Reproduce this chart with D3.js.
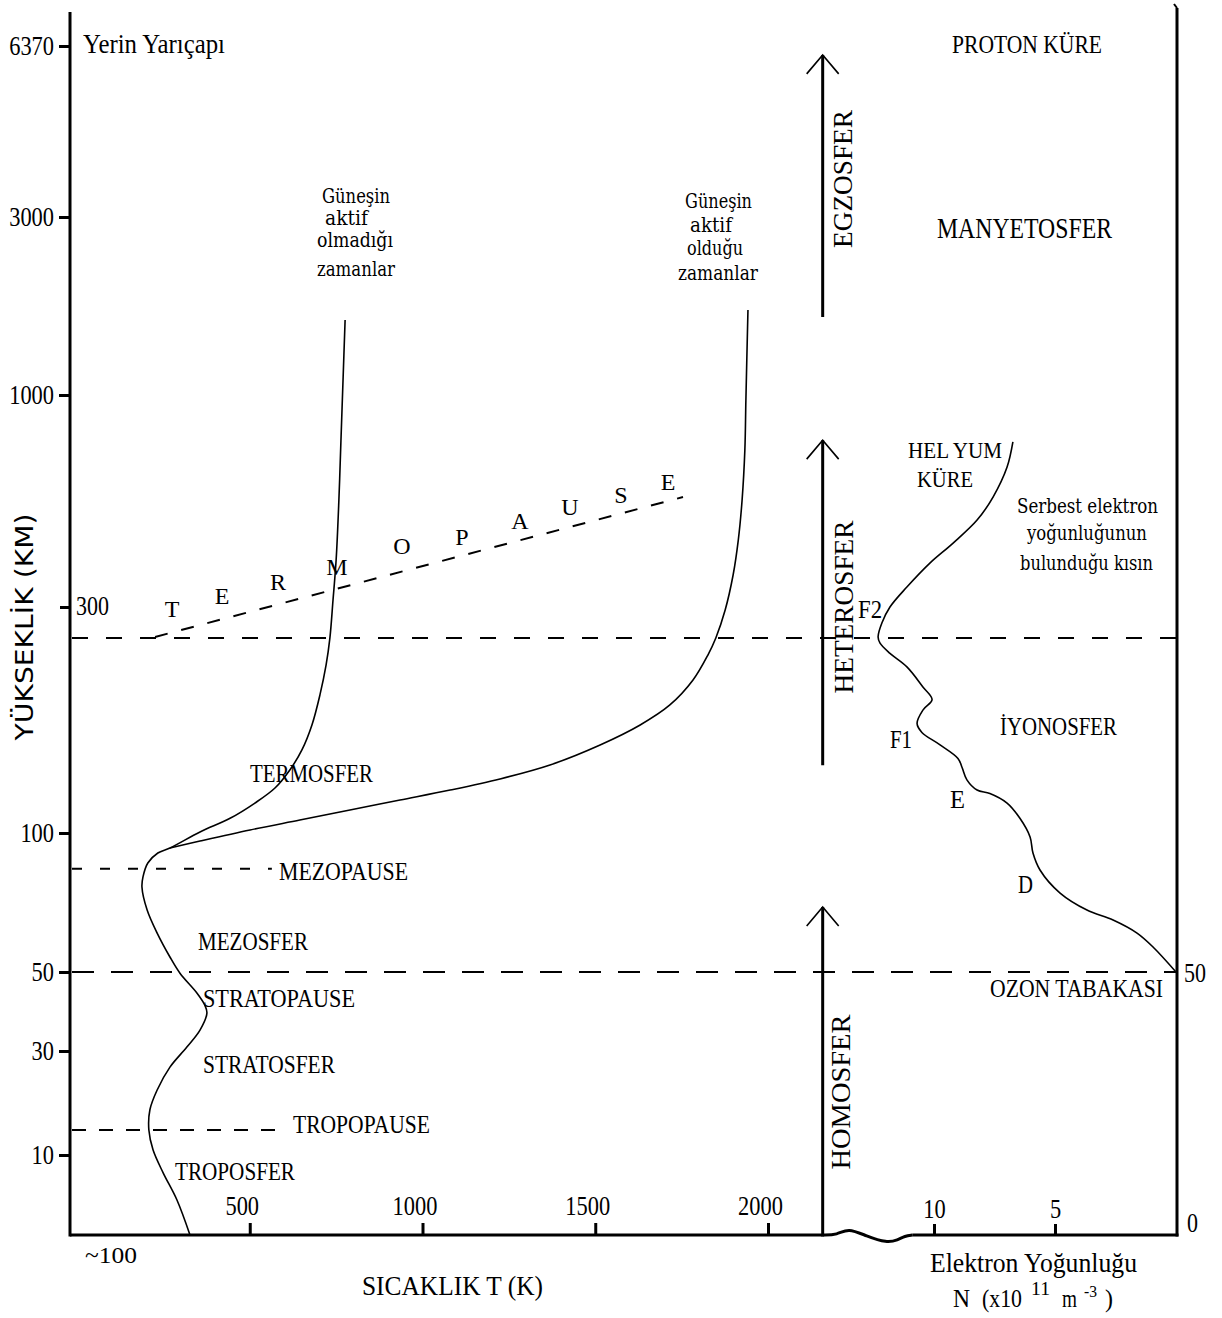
<!DOCTYPE html>
<html><head><meta charset="utf-8">
<script src="https://cdn.jsdelivr.net/npm/d3@7/dist/d3.min.js"></script>
<style>body{margin:0;background:#fff}svg{display:block}</style>
</head><body>
<script>
// ---------------- DATA ----------------
// altitude axis (km) – piecewise, as drawn
const altitudeBreaks = [0, 10, 30, 50, 100, 300, 1000, 3000, 6370];
const leftTickValues = [6370, 3000, 1000, 100, 50, 30, 10];
const innerTickValue = 300;
const tempTicks = [500, 1000, 1500, 2000];        // K
const densityTicks = [10, 5];                      // x10^11 m^-3

// temperature profile, quiet sun  [T (K), altitude (km)]
const solarMinProfile = [
  [327,0],[289,4.4],[249,7.8],[220,11],[208,14.8],[211,18.7],[232,22.5],[269,26.9],
  [318,31],[356,35.3],[376,39.6],[370,41.6],[347,44.7],[298,49.7],[269,55.4],[232,64],
  [203,72.3],[188,80.6],[191,84.2],[205,89.2],[234,92.8],[269,94.6],[356,100.9],[443,113],
  [515,126.5],[573,139.8],[616,155.8],[651,173.5],[680,195.6],[703,222],[721,248.7],
  [732,272.6],[741,323],[750,455],[758,653],[764,851],[770,1169],[776,1843]
];
// temperature profile, active sun
const solarMaxProfile = [
  [269,94.6],[356,97.1],[501,102.7],[645,111.5],[790,120.4],[935,129.2],[1080,138],
  [1224,147.8],[1369,160.2],[1514,177.9],[1630,195.6],[1716,213.3],[1783,235.4],
  [1826,257.5],[1849,272.6],[1876,297.3],[1899,405.6],[1914,521],[1925,653],
  [1933,818],[1936,983],[1942,1955]
];
// electron density profile [N (x10^11 m^-3), altitude (km)]
const electronProfile = [
  [6.74,845],[6.98,762],[7.56,663],[8.22,587],[9.21,511],[10.17,445],[11.12,366],
  [11.82,300],[12.15,286],[12.31,273.5],[12.23,268],[11.82,259],[11.12,247],[10.45,229],
  [10.08,218],[10.45,209],[10.70,197],[10.50,189],[9.75,178],[9.01,166],[8.84,158],
  [8.64,147],[8.22,138],[7.69,135],[6.98,126.5],[6.45,113],[6.03,98.6],[5.91,92.8],
  [5.62,86.7],[4.79,78.4],[3.68,72.3],[2.60,68.7],[1.61,64],[0.95,59],[0,50]
];
// thermopause (sloped boundary) end points [T, km]
const thermopause = [[226,273.5],[1754,663]];
// horizontal boundaries: altitude (km), temperature where the dashed line stops (null = full width)
const boundaryKm = [272.6, 50, 87.1, 14.8];
const boundaryEndT = [null, null, 564, 582];
// region arrows (altitude ranges, km)
const regionNames = ["HOMOSFER", "HETEROSFER", "EGZOSFER"];
const regionFrom = [0, 160, 1876];
const regionTo = [73.4, 851, 6195];
const arrowColumnN = 14.6;

// ---------------- LAYOUT / STYLE ----------------
const SERIF = "'Liberation Serif','Times New Roman',serif";
const SERIF2 = "'DejaVu Serif','Liberation Serif',serif";
const SANS = "'DejaVu Sans','Liberation Sans',sans-serif";
const axisX = 70, rightAxisX = 1177, baseY = 1235;

const svg = d3.select("body").append("svg").attr("width", 1222).attr("height", 1318);

const y = d3.scaleLinear().domain(altitudeBreaks).range([1235,1155,1051,972,833,607,395,217,46]);
const xT = d3.scaleLinear().domain([0, 2000]).range([77, 768]);
const xN = d3.scaleLinear().domain([0, 10]).range([1176, 934]);

// ---- axes frame ----
svg.append("line").attr("x1", axisX).attr("x2", axisX).attr("y1", 12).attr("y2", baseY + 1.5)
  .attr("stroke", "#000").attr("stroke-width", 3);
svg.append("line").attr("x1", rightAxisX).attr("x2", rightAxisX).attr("y1", 8).attr("y2", baseY + 1.5)
  .attr("stroke", "#000").attr("stroke-width", 3);
svg.append("path").attr("d", `M${rightAxisX-3},4 L${rightAxisX},8`).attr("stroke","#000").attr("stroke-width",2);

// baseline with a break
const breakPts = [[xN(14.6),0],[xN(14.0),0],[xN(13.55),-7],[xN(12.8),1],[xN(11.94),8],[xN(11.5),5],[xN(11.2),1],[xN(10.9),0]];
const brk = d3.line().x(d => d[0]).y(d => baseY + d[1]).curve(d3.curveBasis);
svg.append("line").attr("x1", axisX).attr("x2", xN(14.6)).attr("y1", baseY).attr("y2", baseY)
  .attr("stroke", "#000").attr("stroke-width", 3);
svg.append("path").attr("d", brk(breakPts)).attr("fill","none").attr("stroke","#000").attr("stroke-width",3);
svg.append("line").attr("x1", xN(10.9)).attr("x2", rightAxisX + 1.5).attr("y1", baseY).attr("y2", baseY)
  .attr("stroke", "#000").attr("stroke-width", 3);

// left axis ticks
const gL = svg.append("g").attr("transform", `translate(${axisX},0)`)
  .call(d3.axisLeft(y).tickValues(leftTickValues).tickSize(11).tickPadding(5).tickFormat(d3.format("d")));
gL.select(".domain").remove();
gL.selectAll(".tick line").attr("stroke", "#000").attr("stroke-width", 3);
gL.selectAll(".tick text").attr("font-family", SERIF).attr("font-size", 27).attr("fill", "#000")
  .attr("dy", "0.32em").attr("textLength", d => String(d).length * 11.2).attr("lengthAdjust", "spacingAndGlyphs");

// inner 300 tick
const g300 = svg.append("g").attr("transform", `translate(${axisX},0)`)
  .call(d3.axisLeft(y).tickValues([innerTickValue]).tickSize(10).tickFormat(""));
g300.select(".domain").remove();
g300.selectAll(".tick line").attr("stroke", "#000").attr("stroke-width", 3);
svg.append("text").attr("x", axisX + 6).attr("y", y(innerTickValue) + 8).attr("font-family", SERIF)
  .attr("font-size", 27).attr("textLength", 33).attr("lengthAdjust", "spacingAndGlyphs").text(innerTickValue);

// temperature axis (ticks point upward)
const gT = svg.append("g").attr("transform", `translate(0,${baseY})`)
  .call(d3.axisTop(xT).tickValues(tempTicks).tickSize(12).tickPadding(8).tickFormat(d3.format("d")));
gT.select(".domain").remove();
gT.selectAll(".tick line").attr("stroke", "#000").attr("stroke-width", 3);
gT.selectAll(".tick text").attr("font-family", SERIF).attr("font-size", 27).attr("fill", "#000")
  .attr("dx", -8).attr("textLength", d => String(d).length * 11.2).attr("lengthAdjust", "spacingAndGlyphs");

// electron density axis
const gN = svg.append("g").attr("transform", `translate(0,${baseY})`)
  .call(d3.axisTop(xN).tickValues(densityTicks).tickSize(11).tickPadding(6).tickFormat(d3.format("d")));
gN.select(".domain").remove();
gN.selectAll(".tick line").attr("stroke", "#000").attr("stroke-width", 3);
gN.selectAll(".tick text").attr("font-family", SERIF).attr("font-size", 27).attr("fill", "#000")
  .attr("textLength", d => String(d).length * 11.2).attr("lengthAdjust", "spacingAndGlyphs");
svg.append("text").attr("x", xN(0) + 11).attr("y", baseY - 3).attr("font-family", SERIF)
  .attr("font-size", 27).attr("textLength", 11).attr("lengthAdjust", "spacingAndGlyphs").text("0");
svg.append("text").attr("x", xN(0) + 8).attr("y", y(50) + 10).attr("font-family", SERIF)
  .attr("font-size", 27).attr("textLength", 22).attr("lengthAdjust", "spacingAndGlyphs").text("50");

// ---- dashed boundaries ----
const dashStyles = ["16,18", "22,17", "10,18", "14,13"];
boundaryKm.forEach((km, i) => {
  svg.append("line").attr("x1", axisX + 2).attr("x2", boundaryEndT[i] == null ? rightAxisX : xT(boundaryEndT[i]))
    .attr("y1", y(km)).attr("y2", y(km)).attr("stroke", "#000").attr("stroke-width", 2)
    .attr("stroke-dasharray", dashStyles[i]);
});
svg.append("path").attr("d", d3.line().x(d => xT(d[0])).y(d => y(d[1]))(thermopause))
  .attr("fill", "none").attr("stroke", "#000").attr("stroke-width", 2).attr("stroke-dasharray", "13,14");

// ---- profiles ----
const lineT = d3.line().x(d => xT(d[0])).y(d => y(d[1])).curve(d3.curveCatmullRom.alpha(0.5));
const lineN = d3.line().x(d => xN(d[0])).y(d => y(d[1])).curve(d3.curveCatmullRom.alpha(0.5));
svg.append("path").attr("d", lineT(solarMinProfile)).attr("fill", "none").attr("stroke", "#000").attr("stroke-width", 1.6);
svg.append("path").attr("d", lineT(solarMaxProfile)).attr("fill", "none").attr("stroke", "#000").attr("stroke-width", 1.6);
svg.append("path").attr("d", lineN(electronProfile)).attr("fill", "none").attr("stroke", "#000").attr("stroke-width", 1.6);

// ---- region arrows ----
const ax = xN(arrowColumnN);
regionNames.forEach((n, i) => {
  svg.append("line").attr("x1", ax).attr("x2", ax).attr("y1", y(regionFrom[i]) + (i === 0 ? 1.5 : 0)).attr("y2", y(regionTo[i]))
    .attr("stroke", "#000").attr("stroke-width", 3);
  svg.append("polyline").attr("points", `${ax-16},${y(regionTo[i])+19} ${ax},${y(regionTo[i])} ${ax+16},${y(regionTo[i])+19}`)
    .attr("fill", "none").attr("stroke", "#000").attr("stroke-width", 1.6);
});

// ---- text annotations ----
function label(t, x, yy, size, len, fam) {
  svg.append("text").attr("x", x).attr("y", yy).attr("font-family", fam || SERIF).attr("font-size", size)
    .attr("fill", "#000").attr("textLength", len).attr("lengthAdjust", "spacingAndGlyphs").text(t);
}
const labels = [
  ["Yerin Yarıçapı", 83, 53, 27, 142],
  ["TERMOSFER", 250, 782, 26, 123],
  ["MEZOPAUSE", 279, 880, 26, 129],
  ["MEZOSFER", 198, 950, 26, 110],
  ["STRATOPAUSE", 203, 1007, 26, 152],
  ["STRATOSFER", 203, 1073, 26, 132],
  ["TROPOPAUSE", 293, 1133, 26, 137],
  ["TROPOSFER", 175, 1180, 26, 120],
  ["~100", 85, 1263, 24, 52],
  ["SICAKLIK   T (K)", 362, 1295, 28, 181],
  ["Elektron Yoğunluğu", 930, 1272, 27, 207],
  ["PROTON KÜRE", 952, 53, 25, 150],
  ["MANYETOSFER", 937, 238, 29, 175],
  ["HEL YUM", 908, 458, 24, 94],
  ["KÜRE", 917, 487, 24, 56],
  ["İYONOSFER", 1000, 735, 26, 117],
  ["F2", 858, 618, 25, 24],
  ["F1", 890, 748, 25, 22],
  ["E", 950, 808, 25, 15],
  ["D", 1018, 893, 25, 15],
  ["OZON TABAKASI", 990, 997, 25, 173],
  ["N", 953, 1307, 26, 17],
  ["(x10", 982, 1307, 26, 40],
  ["11", 1031, 1295, 18, 19],
  ["m", 1062, 1307, 26, 15],
  ["-3", 1084, 1297, 17, 13],
  [")", 1105, 1307, 26, 8]
];
labels.forEach(l => label(...l));
const smallLabels = [
  ["Güneşin", 322, 203, 20, 68], ["aktif", 325, 225, 20, 43], ["olmadığı", 317, 247, 20, 76], ["zamanlar", 317, 276, 20, 78],
  ["Güneşin", 685, 208, 20, 67], ["aktif", 690, 232, 20, 42], ["olduğu", 687, 255, 20, 56], ["zamanlar", 678, 280, 20, 80],
  ["Serbest elektron", 1017, 513, 20, 141], ["yoğunluğunun", 1027, 540, 20, 120], ["bulunduğu kısın", 1020, 570, 20, 133]
];
smallLabels.forEach(l => label(l[0], l[1], l[2], l[3], l[4], SERIF2));

// rotated labels
const rotLabels = [
  ["EGZOSFER", 852, 179, 27, 138, SERIF],
  ["HETEROSFER", 853, 607, 27, 173, SERIF],
  ["HOMOSFER", 850, 1092, 27, 155, SERIF],
  ["YÜKSEKLİK (KM)", 33, 627, 25, 227, SANS]
];
rotLabels.forEach(([t, x, yy, s, len, fam]) => {
  svg.append("text").attr("transform", `translate(${x},${yy}) rotate(-90)`).attr("text-anchor", "middle")
    .attr("font-family", fam).attr("font-size", s).attr("fill", "#000")
    .attr("textLength", len).attr("lengthAdjust", "spacingAndGlyphs").text(t);
});

// thermopause letters
const tpLetters = "TERMOPAUSE".split("");
const tpPos = [[172,617],[222,604],[278,590],[337,575],[402,554],[462,545],[520,529],[570,515],[621,503],[668,490]];
tpLetters.forEach((c, i) => {
  svg.append("text").attr("x", tpPos[i][0]).attr("y", tpPos[i][1]).attr("text-anchor", "middle")
    .attr("font-family", SERIF).attr("font-size", 24).attr("fill", "#000").text(c);
});
</script>
</body></html>
